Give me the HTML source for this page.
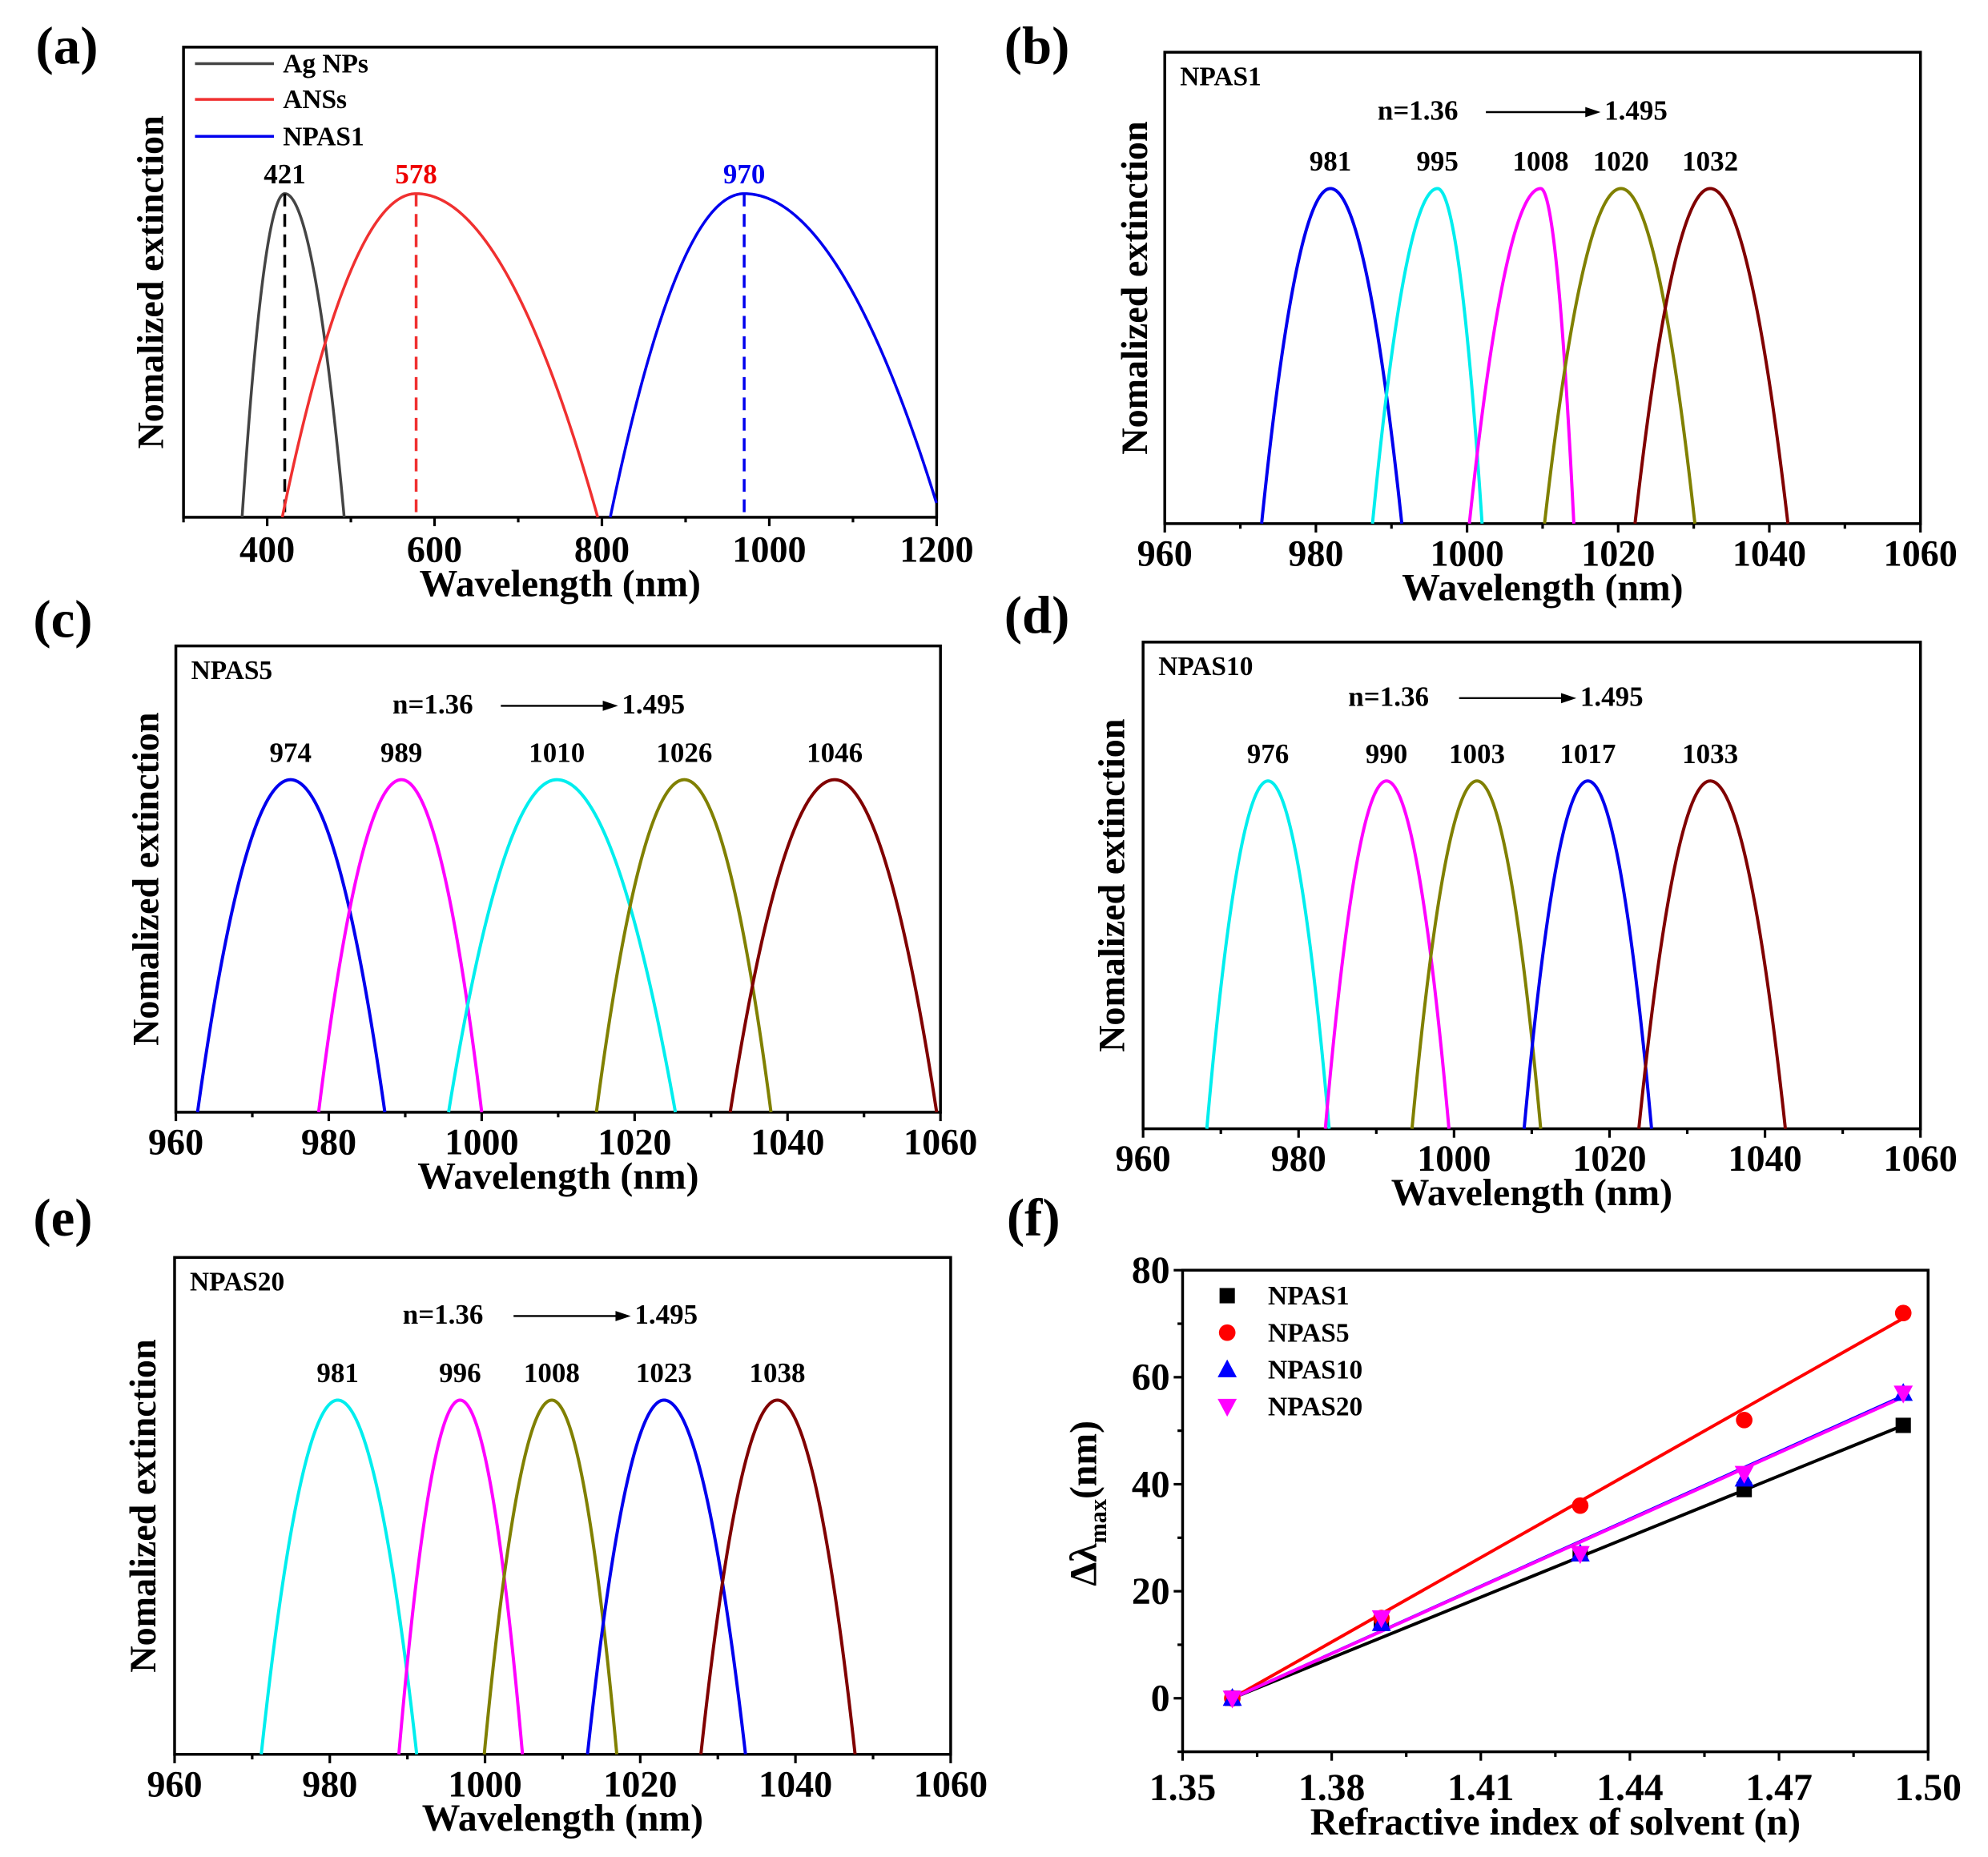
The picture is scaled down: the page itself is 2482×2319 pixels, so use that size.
<!DOCTYPE html>
<html><head><meta charset="utf-8">
<style>
html,body{margin:0;padding:0;background:#fff;}
svg{display:block;}
svg text{font-family:"Liberation Serif","DejaVu Serif",serif !important;font-weight:bold;}
</style></head>
<body>
<svg id="s" width="2482" height="2319" viewBox="0 0 1560 1457.6" preserveAspectRatio="none" xmlns="http://www.w3.org/2000/svg" font-family="Liberation Serif, serif">
<g id="g"></g>
</svg>
<script>
var NS="http://www.w3.org/2000/svg",G=document.getElementById('g');
function el(t,a,txt){var e=document.createElementNS(NS,t);for(var k in a)e.setAttribute(k,a[k]);if(t=='text'){e.setAttribute('font-family','Liberation Serif, serif');e.setAttribute('font-weight','bold');}if(txt!==undefined)e.textContent=txt;G.appendChild(e);return e;}
function T(x,y,s,size,anchor,fill,rot){var a={x:x,y:y,'font-size':size,'text-anchor':anchor||'middle',fill:fill||'#000'};if(rot)a.transform='rotate(-90 '+x+' '+y+')';return el('text',a,s);}
function peakPath(X,base,top,p,L,R,xmax){
  var d='',first=true;
  for(var v=p-L;v<=Math.min(p+R,xmax)+1e-9;v+=(L+R)/300){
    var w=v<p?L:R,t=(v-p)/w,y=base-(base-top)*(1-t*t);
    d+=(first?'M':'L')+X(v).toFixed(2)+' '+y.toFixed(2);first=false;}
  return d;}
function axisBox(x0,x1,y0,y1){el('rect',{x:x0,y:y0,width:x1-x0,height:y1-y0,fill:'none',stroke:'#000','stroke-width':2.2});}
function xTicks(X,y1,maj,mnr,ly,size){
  maj.forEach(function(v){el('line',{x1:X(v),x2:X(v),y1:y1,y2:y1+7,stroke:'#000','stroke-width':2});T(X(v),ly,String(v),size);});
  mnr.forEach(function(v){el('line',{x1:X(v),x2:X(v),y1:y1,y2:y1+4,stroke:'#000','stroke-width':2});});
}
function specPanel(c){
  var X=function(v){return c.x0+(v-960)*(c.x1-c.x0)/100;};
  axisBox(c.x0,c.x1,c.y0,c.y1);
  xTicks(X,c.y1,[960,980,1000,1020,1040,1060],[970,990,1010,1030,1050],c.y1+33,29);
  T((c.x0+c.x1)/2,c.y1+60,'Wavelength (nm)',30);
  T(c.ylx,(c.y0+c.y1)/2,'Nomalized extinction',29,'middle','#000',true);
  T(c.lx,c.ly,c.letter,42,'start');
  T(c.x0+12,c.y0+26,c.name,21,'start');
  var ny=c.ny;
  T(c.nx,ny,'n=1.36',22,'start');
  el('line',{x1:c.ax0,x2:c.ax1-8,y1:ny-6,y2:ny-6,stroke:'#000','stroke-width':1.5});
  el('polygon',{points:(c.ax1)+','+(ny-6)+' '+(c.ax1-12)+','+(ny-10)+' '+(c.ax1-12)+','+(ny-2),fill:'#000'});
  T(c.ax1+3,ny,'1.495',22,'start');
  c.peaks.forEach(function(pk){
    var p=960+(pk[1]-c.x0)*100/(c.x1-c.x0),l=960+(pk[2]-c.x0)*100/(c.x1-c.x0),r=960+(pk[3]-c.x0)*100/(c.x1-c.x0);
    el('path',{d:peakPath(X,c.y1,c.top,p,p-l,r-p,2000),fill:'none',stroke:pk[0],'stroke-width':2.5});
    T(pk[1],c.top-14,pk[4],22);
  });
}
// (a)
(function(){
  var x0=144,x1=735,y0=37,y1=406,top=152;
  var X=function(v){return x0+(v-300)*(x1-x0)/900;};
  axisBox(x0,x1,y0,y1);
  xTicks(X,y1,[400,600,800,1000,1200],[300,500,700,900,1100],y1+35,29);
  T((x0+x1)/2,y1+62,'Wavelength (nm)',30);
  T(128,(y0+y1)/2,'Nomalized extinction',29,'middle','#000',true);
  T(28,50,'(a)',42,'start');
  var S=[['#444',421,51,71,'421','#000'],['#f03030',578,160,217,'578','#e00'],['#0000ee',970,160,235,'970','#00e']];
  S.forEach(function(s){
    el('path',{d:peakPath(X,y1,top,s[1],s[2],s[3],1200),fill:'none',stroke:s[0],'stroke-width':2.2});
    el('line',{x1:X(s[1]),x2:X(s[1]),y1:top,y2:y1,stroke:s[0]=='#444'?'#000':s[0],'stroke-width':2.2,'stroke-dasharray':'10,6'});
    T(X(s[1]),top-8,s[4],22,'middle',s[5]);
  });
  [['#444','Ag NPs',50],['#f03030','ANSs',78],['#0000ee','NPAS1',107]].forEach(function(l){
    el('line',{x1:153,x2:215,y1:l[2],y2:l[2],stroke:l[0],'stroke-width':2.2});
    T(222,l[2]+7,l[1],21,'start');
  });
})();
specPanel({x0:914,x1:1507,y0:41,y1:411,top:148,ylx:900,lx:788,ly:50,letter:'(b)',name:'NPAS1',nx:1081,ny:94,ax0:1166,ax1:1256,
 peaks:[['#0000ee',1044,990,1100,'981'],['#00eeee',1128,1077,1163,'995'],['#ff00ff',1209,1153,1235,'1008'],['#808000',1272,1212,1330,'1020'],['#800000',1342,1283,1403,'1032']]});
specPanel({x0:138,x1:738,y0:507,y1:873,top:612,ylx:124,lx:26,ly:500,letter:'(c)',name:'NPAS5',nx:308,ny:560,ax0:393,ax1:485,
 peaks:[['#0000ee',228,155,302,'974'],['#ff00ff',315,250,378,'989'],['#00eeee',437,352,530,'1010'],['#808000',537,468,605,'1026'],['#800000',655,573,735,'1046']]});
specPanel({x0:897,x1:1507,y0:504,y1:886,top:613,ylx:882,lx:788,ly:497,letter:'(d)',name:'NPAS10',nx:1058,ny:554,ax0:1145,ax1:1237,
 peaks:[['#00eeee',995,947,1043,'976'],['#ff00ff',1088,1040,1137,'990'],['#808000',1159,1108,1209,'1003'],['#0000ee',1246,1196,1296,'1017'],['#800000',1342,1286,1401,'1033']]});
specPanel({x0:137,x1:746,y0:987,y1:1377,top:1099,ylx:122,lx:26,ly:970,letter:'(e)',name:'NPAS20',nx:316,ny:1039,ax0:403,ax1:495,
 peaks:[['#00eeee',265,205,327,'981'],['#ff00ff',361,313,410,'996'],['#808000',433,380,484,'1008'],['#0000ee',521,461,585,'1023'],['#800000',610,550,671,'1038']]});
// (f)
(function(){
  var x0=928,x1=1513,y0=997,y1=1375;
  var X=function(v){return x0+(v-1.35)*(x1-x0)/0.15;},Y=function(v){return y1-(v+10)*(y1-y0)/90;};
  axisBox(x0,x1,y0,y1);
  [1.35,1.38,1.41,1.44,1.47,1.50].forEach(function(v){el('line',{x1:X(v),x2:X(v),y1:y1,y2:y1+7,stroke:'#000','stroke-width':2});T(X(v),y1+38,v.toFixed(2),30);});
  [1.365,1.395,1.425,1.455,1.485].forEach(function(v){el('line',{x1:X(v),x2:X(v),y1:y1,y2:y1+4,stroke:'#000','stroke-width':2});});
  [0,20,40,60,80].forEach(function(v){el('line',{x1:x0,x2:x0-7,y1:Y(v),y2:Y(v),stroke:'#000','stroke-width':2});T(x0-10,Y(v)+10,String(v),30,'end');});
  [-10,10,30,50,70].forEach(function(v){el('line',{x1:x0,x2:x0-4,y1:Y(v),y2:Y(v),stroke:'#000','stroke-width':2});});
  T((x0+x1)/2,y1+65,'Refractive index of solvent (n)',30);
  var t=el('text',{x:860,y:1180,'font-size':30,'text-anchor':'middle',transform:'rotate(-90 860 1180)'});
  t.innerHTML='Δλ<tspan font-size="19" dy="8">max</tspan><tspan dy="-8">(nm)</tspan>';
  T(790,970,'(f)',42,'start');
  var n=[1.36,1.39,1.43,1.463,1.495];
  var D=[['#000',[0,14,27,39,51],51,'sq','NPAS1'],['#ff0000',[0,15,36,52,72],71,'ci','NPAS5'],['#0000ff',[0,14,27,41,57],56.5,'tu','NPAS10'],['#ff00ff',[0,15,27,42,57],56.3,'td','NPAS20']];
  function mk(type,x,y,c){
    if(type=='sq')el('rect',{x:x-6,y:y-6,width:12,height:12,fill:c});
    else if(type=='ci')el('circle',{cx:x,cy:y,r:6.5,fill:c});
    else if(type=='tu')el('polygon',{points:x+','+(y-8)+' '+(x-7.5)+','+(y+6)+' '+(x+7.5)+','+(y+6),fill:c});
    else el('polygon',{points:x+','+(y+8)+' '+(x-7.5)+','+(y-6)+' '+(x+7.5)+','+(y-6),fill:c});
  }
  D.forEach(function(d){el('line',{x1:X(1.36),y1:Y(0),x2:X(1.495),y2:Y(d[2]),stroke:d[0],'stroke-width':2.5});});
  D.forEach(function(d,i){
    n.forEach(function(v,j){mk(d[3],X(v),Y(d[1][j]),d[0]);});
    var ly=1017+i*29;mk(d[3],963,ly,d[0]);T(995,ly+7,d[4],21,'start');
  });
})();
</script>
</body></html>
